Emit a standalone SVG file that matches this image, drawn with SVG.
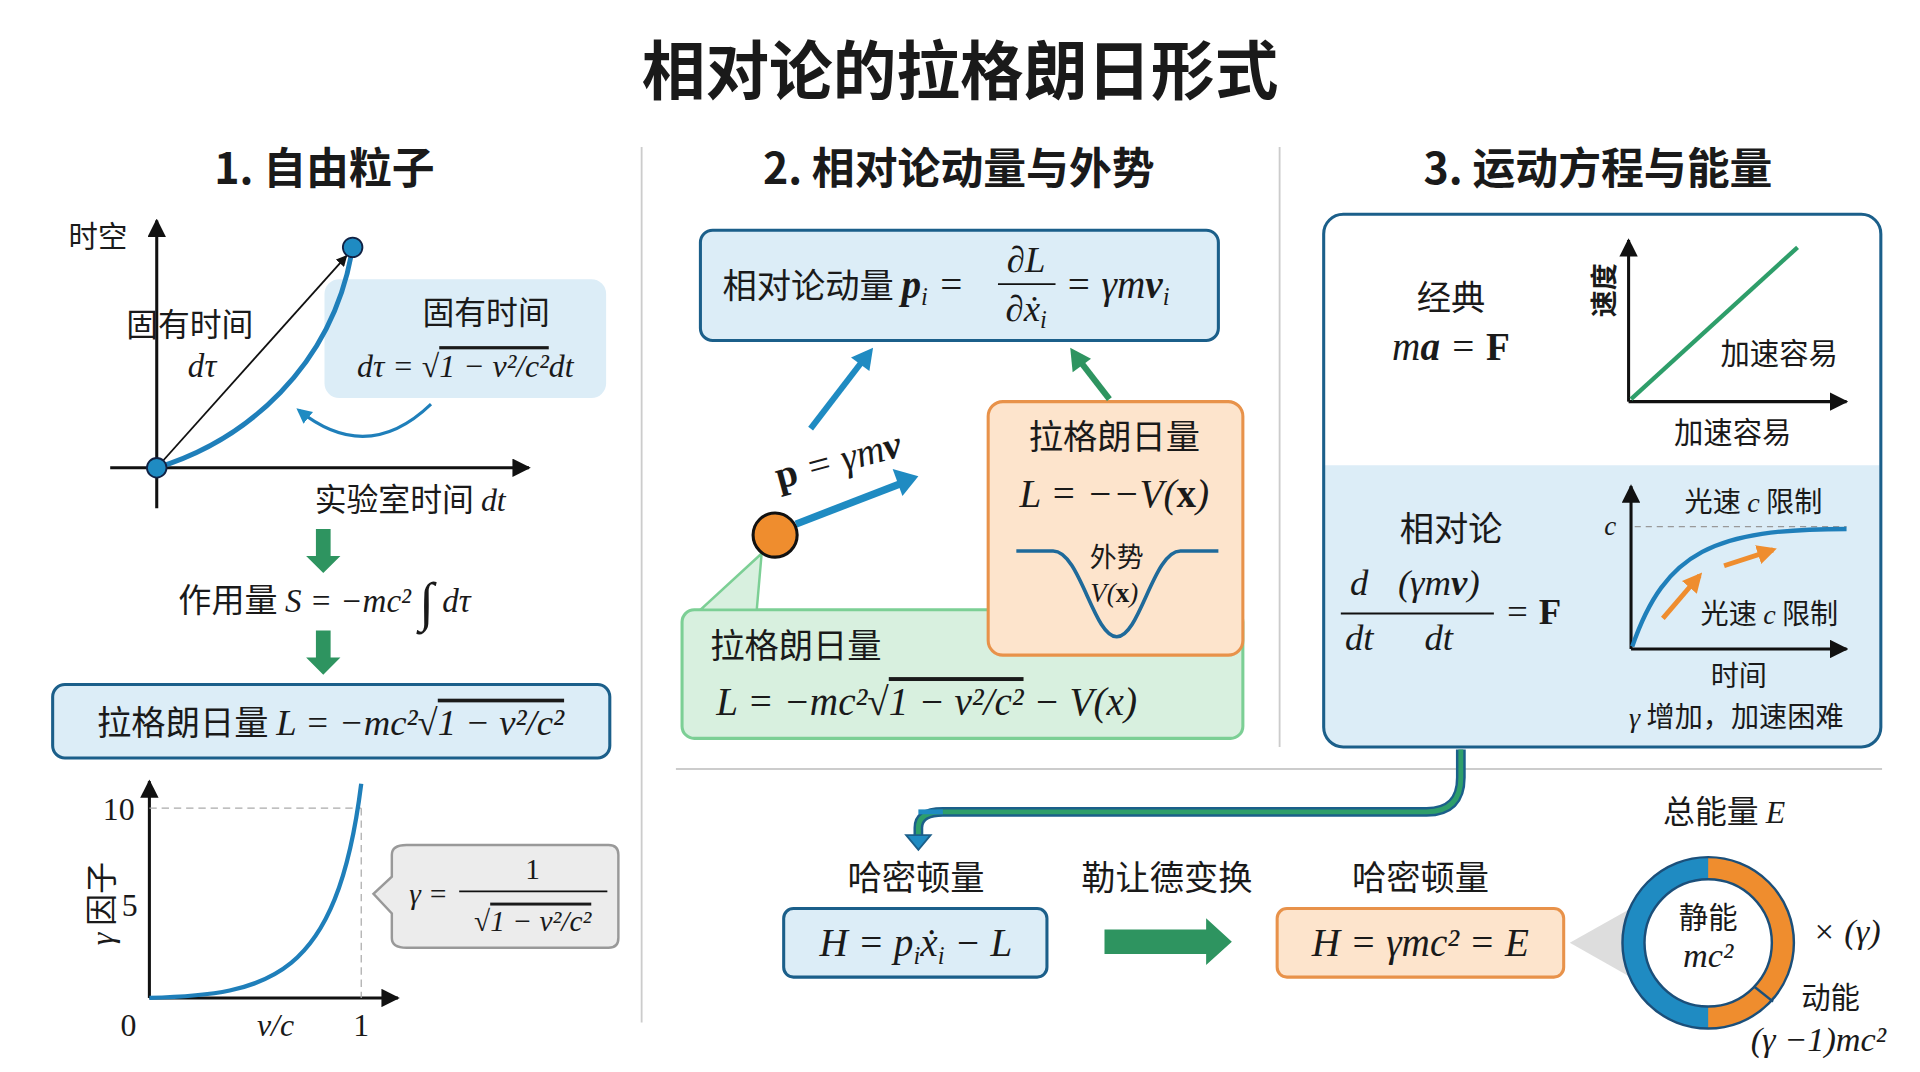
<svg xmlns="http://www.w3.org/2000/svg" width="1920" height="1072" viewBox="0 0 1920 1072">
<defs>
<style>
.zh{font-family:"Noto Sans CJK SC","Noto Sans",sans-serif;fill:#1a1a1a}
.b{font-weight:bold}
.m{font-family:"Liberation Serif","DejaVu Serif",serif;font-style:italic;fill:#1a1a1a}
.n{font-family:"Liberation Serif","DejaVu Serif",serif;fill:#1a1a1a}
.ol{text-decoration:overline}
.ax{stroke:#111;stroke-width:2.5;fill:none}
.lb{fill:#dcedf7;stroke:#1b5f8a;stroke-width:2.5}
.div{stroke:#ccc;stroke-width:1.5}
</style>
<marker id="ah" viewBox="0 0 10 10" refX="9" refY="5" markerWidth="6" markerHeight="6" orient="auto"><path d="M0,0L10,5L0,10z" fill="#111"/></marker>
<marker id="ahb" viewBox="0 0 10 10" refX="8" refY="5" markerWidth="5" markerHeight="5" orient="auto"><path d="M0,0L10,5L0,10z" fill="#1f8bc2"/></marker>
<marker id="aho" viewBox="0 0 10 10" refX="8" refY="5" markerWidth="4" markerHeight="4" orient="auto"><path d="M0,0L10,5L0,10z" fill="#ef8d2e"/></marker>
</defs>
<rect width="1920" height="1072" fill="#fff"/>
<g transform="scale(1.2245)">
<text class="zh b" x="784" y="77" font-size="52" text-anchor="middle">相对论的拉格朗日形式</text>
<g class="zh b" font-size="35" text-anchor="middle">
<text x="265" y="150">1. 自由粒子</text><text x="783" y="150">2. 相对论动量与外势</text><text x="1305" y="150">3. 运动方程与能量</text></g>
<g id="dividers"><line class="div" x1="524" y1="120" x2="524" y2="835"/><line class="div" x1="1045" y1="120" x2="1045" y2="610"/><line class="div" x1="552" y1="628" x2="1537" y2="628"/></g>

<g id="panel1">
<line class="ax" x1="128" y1="415" x2="128" y2="180" marker-end="url(#ah)"/>
<line class="ax" x1="90" y1="382" x2="432" y2="382" marker-end="url(#ah)"/>
<text class="zh" x="80" y="202" font-size="24" text-anchor="middle">时空</text>
<line x1="128" y1="382" x2="283" y2="209" stroke="#111" stroke-width="1.5" marker-end="url(#ah)"/>
<rect x="265" y="228" width="230" height="97" rx="12" fill="#dcedf7"/>
<path d="M128,382 C200,360 272,300 288,202" stroke="#1f7fba" stroke-width="4" fill="none"/>
<circle cx="128" cy="382" r="8" fill="#1f8bc2" stroke="#124" stroke-width="1.5"/>
<circle cx="288" cy="202" r="8" fill="#1f8bc2" stroke="#124" stroke-width="1.5"/>
<text class="zh" x="155" y="274" font-size="26" text-anchor="middle">固有时间</text>
<text class="m" x="165" y="308" font-size="27" text-anchor="middle">dτ</text>
<text class="zh" x="397" y="265" font-size="26" text-anchor="middle">固有时间</text>
<text class="m" x="380" y="308" font-size="26" text-anchor="middle">dτ = √<tspan class="ol">1 − v²/c²</tspan>dt</text>
<path d="M352,330 Q300,380 244,335" stroke="#1f7fba" stroke-width="2.5" fill="none" marker-end="url(#ahb)"/>
<text class="zh" x="335" y="417" font-size="26" text-anchor="middle">实验室时间 <tspan class="m">dt</tspan></text>
<path d="M258,432h12v22h8l-14,14l-14,-14h8z" fill="#2e9460"/>
<path d="M258,515h12v22h8l-14,14l-14,-14h8z" fill="#2e9460"/>
<text class="zh" x="265" y="500" font-size="27" text-anchor="middle">作用量 <tspan class="m">S = −mc² <tspan font-size="44" dy="6">∫</tspan><tspan dy="-6"> dτ</tspan></tspan></text>
<rect class="lb" x="43" y="559" width="455" height="60" rx="10"/>
<text class="zh" x="270" y="600" font-size="28" text-anchor="middle">拉格朗日量 <tspan class="m" font-size="30">L = −mc²√<tspan class="ol">1 − v²/c²</tspan></tspan></text>
<line x1="122" y1="815" x2="122" y2="638" class="ax" marker-end="url(#ah)"/>
<line x1="122" y1="815" x2="325" y2="815" class="ax" marker-end="url(#ah)"/>
<line x1="122" y1="660" x2="295" y2="660" stroke="#aaa" stroke-dasharray="6 4"/>
<line x1="295" y1="660" x2="295" y2="815" stroke="#aaa" stroke-dasharray="6 4"/>
<path d="M122,815 C220,812 275,800 295,640" stroke="#1f7fba" stroke-width="3.5" fill="none"/>
<g class="n" font-size="26" text-anchor="middle"><text x="97" y="670">10</text><text x="106" y="748">5</text><text x="105" y="846">0</text><text x="295" y="846">1</text></g>
<text class="m" x="225" y="846" font-size="26" text-anchor="middle">v/c</text>
<text class="zh" x="0" y="0" font-size="26" text-anchor="middle" transform="translate(92,738) rotate(-90)"><tspan class="m">γ</tspan> 因子</text>
<path d="M332,690H497Q505,690 505,698V766Q505,774 497,774H332Q320,774 320,766V746L305,730L320,716V698Q320,690 332,690Z" fill="#ececec" stroke="#999" stroke-width="2"/>
<text class="m" x="350" y="738" font-size="24" text-anchor="middle">γ =</text>
<text class="n" x="435" y="718" font-size="24" text-anchor="middle">1</text>
<line x1="375" y1="728" x2="496" y2="728" stroke="#111" stroke-width="1.5"/>
<text class="m" x="435" y="760" font-size="24" text-anchor="middle">√<tspan class="ol">1 − v²/c²</tspan></text>
</g>

<g id="panel2">
<rect class="lb" x="572" y="188" width="423" height="90" rx="10"/>
<text class="zh" x="590" y="243" font-size="28">相对论动量 <tspan class="m" font-weight="bold" font-size="32">p</tspan><tspan class="m" font-size="20" dy="6">i</tspan><tspan class="m" font-size="32" dy="-6"> =</tspan></text>
<text class="m" x="838" y="222" font-size="30" text-anchor="middle">∂L</text>
<line x1="815" y1="232" x2="862" y2="232" stroke="#111" stroke-width="1.5"/>
<text class="m" x="838" y="262" font-size="30" text-anchor="middle">∂ẋ<tspan font-size="20" dy="6">i</tspan></text>
<text class="m" x="870" y="243" font-size="32">= γm<tspan font-weight="bold">v</tspan><tspan font-size="20" dy="6">i</tspan></text>
<rect x="557" y="498" width="458" height="105" rx="10" fill="#d8f0df" stroke="#7ccf95" stroke-width="2.5"/>
<polygon points="622,452 572,498 618,498" fill="#d8f0df" stroke="#7ccf95" stroke-width="2"/>
<rect x="807" y="328" width="208" height="207" rx="12" fill="#fde4cc" stroke="#e8924a" stroke-width="2.5"/>
<text class="zh" x="910" y="367" font-size="28" text-anchor="middle">拉格朗日量</text>
<text class="m" x="910" y="414" font-size="32" text-anchor="middle">L = −−V(<tspan font-weight="bold" font-style="normal">x</tspan>)</text>
<path d="M830,450L860,450C882,450 893,520 912,520C931,520 942,450 964,450L995,450" stroke="#1f6a9a" stroke-width="3" fill="none"/>
<text class="zh" x="912" y="463" font-size="22" text-anchor="middle">外势</text>
<text class="m" x="910" y="492" font-size="22" text-anchor="middle">V(<tspan font-weight="bold" font-style="normal">x</tspan>)</text>
<text class="zh" x="580" y="537" font-size="28">拉格朗日量</text>
<text class="m" x="585" y="584" font-size="32">L = −mc²√<tspan class="ol">1 − v²/c²</tspan> − V(x)</text>
<line x1="650" y1="428" x2="738" y2="394" stroke="#1f8bc2" stroke-width="6"/>
<path d="M750,389L729,383L737,405z" fill="#1f8bc2"/>
<circle cx="633" cy="437" r="18" fill="#ef8d2e" stroke="#111" stroke-width="2.5"/>
<text class="m" x="685" y="386" font-size="32" text-anchor="middle" transform="rotate(-15 685 378)"><tspan font-weight="bold" font-style="normal">p</tspan> = γm<tspan font-weight="bold">v</tspan></text>
<line x1="662" y1="350" x2="705" y2="294" stroke="#1f8bc2" stroke-width="5"/>
<path d="M713,284L695,292L710,303z" fill="#1f8bc2"/>
<line x1="906" y1="326" x2="882" y2="295" stroke="#2e9460" stroke-width="5"/>
<path d="M874,284L876,304L891,293z" fill="#2e9460"/>
</g>

<g id="panel3">
<rect x="1081" y="175" width="455" height="435" rx="16" fill="#fff"/>
<path d="M1082,380H1535V594Q1535,609 1520,609H1097Q1082,609 1082,594Z" fill="#dcedf7"/>
<rect x="1081" y="175" width="455" height="435" rx="16" fill="none" stroke="#1b5f8a" stroke-width="2.5"/>
<text class="zh" x="1185" y="253" font-size="28" text-anchor="middle">经典</text>
<text class="m" x="1185" y="294" font-size="32" text-anchor="middle">m<tspan font-weight="bold">a</tspan> = <tspan font-weight="bold" font-style="normal">F</tspan></text>
<line class="ax" x1="1330" y1="328" x2="1330" y2="196" marker-end="url(#ah)"/>
<line class="ax" x1="1330" y1="328" x2="1508" y2="328" marker-end="url(#ah)"/>
<line x1="1332" y1="326" x2="1468" y2="202" stroke="#2e9e6a" stroke-width="3.5"/>
<text class="zh b" font-size="22" text-anchor="middle" transform="translate(1318,237) rotate(-90)">速度</text>
<text class="zh" x="1453" y="297" font-size="24" text-anchor="middle">加速容易</text>
<text class="zh" x="1415" y="362" font-size="24" text-anchor="middle">加速容易</text>
<text class="zh" x="1185" y="442" font-size="28" text-anchor="middle">相对论</text>
<text class="m" x="1110" y="486" font-size="30" text-anchor="middle">d</text>
<text class="m" x="1175" y="486" font-size="30" text-anchor="middle">(γm<tspan font-weight="bold">v</tspan>)</text>
<line x1="1095" y1="501" x2="1220" y2="501" stroke="#111" stroke-width="1.5"/>
<text class="m" x="1110" y="531" font-size="30" text-anchor="middle">dt</text>
<text class="m" x="1175" y="531" font-size="30" text-anchor="middle">dt</text>
<text class="m" x="1252" y="510" font-size="30" text-anchor="middle">= <tspan font-weight="bold" font-style="normal">F</tspan></text>
<line class="ax" x1="1332" y1="530" x2="1332" y2="397" marker-end="url(#ah)"/>
<line class="ax" x1="1332" y1="530" x2="1508" y2="530" marker-end="url(#ah)"/>
<text class="m" x="1315" y="437" font-size="22" text-anchor="middle">c</text>
<line x1="1335" y1="430" x2="1508" y2="430" stroke="#999" stroke-dasharray="5 4"/>
<path d="M1333,528C1360,450 1400,432 1508,432" stroke="#1f7fba" stroke-width="3.5" fill="none"/>
<path d="M1358,505L1388,470" stroke="#ef8d2e" stroke-width="4" marker-end="url(#aho)"/>
<path d="M1408,462L1448,449" stroke="#ef8d2e" stroke-width="4" marker-end="url(#aho)"/>
<text class="zh" x="1432" y="418" font-size="23" text-anchor="middle">光速 <tspan class="m">c</tspan> 限制</text>
<text class="zh" x="1445" y="510" font-size="23" text-anchor="middle">光速 <tspan class="m">c</tspan> 限制</text>
<text class="zh" x="1420" y="560" font-size="23" text-anchor="middle">时间</text>
<text class="zh" x="1418" y="594" font-size="23" text-anchor="middle"><tspan class="m">γ</tspan> 增加，加速困难</text>
</g>

<g id="connectors">
<path d="M1193,612L1193,635Q1193,663 1165,663L770,663Q750,663 750,676L750,684" stroke="#1b5f8a" stroke-width="8" fill="none"/>
<path d="M1193,612L1193,635Q1193,663 1165,663L770,663Q750,663 750,676L750,684" stroke="#2e9e6a" stroke-width="4" fill="none"/>
<path d="M750,663L770,663" stroke="#1f8bc2" stroke-width="4"/>
<path d="M740,682L760,682L750,694z" fill="#1f8bc2" stroke="#1b5f8a" stroke-width="1.5"/>
</g>

<g id="bottom">
<text class="zh" x="748" y="727" font-size="28" text-anchor="middle">哈密顿量</text>
<rect class="lb" x="640" y="742" width="215" height="56" rx="8"/>
<text class="m" x="748" y="781" font-size="32" text-anchor="middle">H = p<tspan font-size="20" dy="6">i</tspan><tspan dy="-6">ẋ</tspan><tspan font-size="20" dy="6">i</tspan><tspan dy="-6"> − L</tspan></text>
<text class="zh" x="953" y="727" font-size="28" text-anchor="middle">勒让德变换</text>
<path d="M902,759H985V750L1006,769L985,788V779H902Z" fill="#2e9460"/>
<text class="zh" x="1160" y="727" font-size="28" text-anchor="middle">哈密顿量</text>
<rect x="1043" y="742" width="234" height="56" rx="8" fill="#fde4cc" stroke="#e8924a" stroke-width="2.5"/>
<text class="m" x="1160" y="781" font-size="32" text-anchor="middle">H = γmc² = E</text>
<polygon points="1282,770 1335,740 1335,800" fill="#ddd"/>
<text class="zh" x="1408" y="672" font-size="26" text-anchor="middle">总能量 <tspan class="m">E</tspan></text>
<circle cx="1395" cy="770" r="61" fill="none" stroke="#1f8bc2" stroke-width="18"/>
<path d="M1395,709A61,61 0 0 1 1395,831" fill="none" stroke="#ef8d2e" stroke-width="18"/>
<circle cx="1395" cy="770" r="70" fill="none" stroke="#1b4f7a" stroke-width="2"/>
<circle cx="1395" cy="770" r="52" fill="#fff" stroke="#1b4f7a" stroke-width="2"/>
<line x1="1433" y1="806" x2="1448" y2="818" stroke="#1b4f7a" stroke-width="2"/>
<text class="zh" x="1395" y="758" font-size="24" text-anchor="middle">静能</text>
<text class="m" x="1395" y="790" font-size="28" text-anchor="middle">mc²</text>
<text class="m" x="1508" y="770" font-size="28" text-anchor="middle">× (γ)</text>
<text class="zh" x="1495" y="823" font-size="24" text-anchor="middle">动能</text>
<text class="m" x="1485" y="858" font-size="28" text-anchor="middle">(γ −1)mc²</text>
</g>
</g>
</svg>
